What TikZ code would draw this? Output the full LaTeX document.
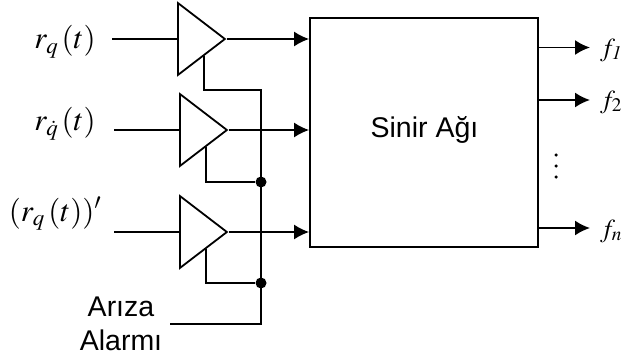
\documentclass[tikz,border=0pt]{standalone}
\usepackage{mathptmx}
\usepackage{fontspec}
\setsansfont{Liberation Sans}
\usepackage{tikz}
\usetikzlibrary{arrows.meta,shapes.geometric,calc}
\tikzset{
  wire/.style={line width=1.8pt},
  arrowwire/.style={wire,-{Latex[length=15pt,width=15pt]}},
  amp/.style={draw,line width=1.8pt,isosceles triangle,isosceles triangle stretches,
    minimum width=72pt,minimum height=47pt,inner sep=0pt,anchor=lower side},
  joint/.style={circle,fill=black,inner sep=0pt,minimum size=11pt},
  smalldot/.style={circle,fill=black,inner sep=0pt,minimum size=3.5pt},
  sig/.style={font=\fontsize{31}{32}\selectfont,inner sep=0pt},
  outlab/.style={font=\fontsize{26}{27}\selectfont,inner sep=0pt,anchor=west},
  lab/.style={font=\sffamily\fontsize{28.5}{30}\selectfont,inner sep=0pt,anchor=base}
}
\begin{document}
\begin{tikzpicture}[x=1pt,y=-1pt]
\useasboundingbox (0,0) rectangle (622,356);
% amplifiers and the network
\node[amp] (amp1) at (177,39) {};
\node[amp] (amp2) at (179,130) {};
\node[amp] (amp3) at (179,232) {};
\node[draw,line width=1.8pt,minimum width=228pt,minimum height=229pt,inner sep=0pt] (net) at (424,132.5) {};
\node[lab] (netlabel) at (424.5,137) {Sinir Ağı};
% inputs
\node[sig] (r1) at (65,42) {$r_q\,(t)$};
\node[sig] (r2) at (65,124) {$r_{\dot q}\,(t)$};
\node[sig] (r3) at (55,214) {$(r_q\,(t))'$};
\coordinate (in1) at (112,39);
\coordinate (in2) at (114,130);
\coordinate (in3) at (114,232);
\draw[wire](in1)--(amp1.lower side);
\draw[wire](in2)--(amp2.lower side);
\draw[wire](in3)--(amp3.lower side);
% amplifier outputs
\draw[arrowwire](amp1.apex)--(amp1.apex-|net.west);
\draw[arrowwire](amp2.apex)--(amp2.apex-|net.west);
\draw[arrowwire](amp3.apex)--(amp3.apex-|net.west);
% alarm line
\node[lab] (ariza) at (121,316) {Arıza};
\node[lab] (alarmi) at (121,350) {Alarmı};
\coordinate (alarmin) at (170,324);
\coordinate (alarmc) at (261,324);
\coordinate (top) at (261,90);
\node[joint] (j2) at (261,182) {};
\node[joint] (j3) at (261,283) {};
\coordinate (s1) at ($(amp1.apex)!0.46!(amp1.right corner)$);
\coordinate (s2) at ($(amp2.apex)!0.46!(amp2.right corner)$);
\coordinate (s3) at ($(amp3.apex)!0.46!(amp3.right corner)$);
\draw[wire](alarmin)--(alarmc)--(top)--(top-|s1)--(s1);
\draw[wire](s2)|-(j2);
\draw[wire](s3)|-(j3);
% outputs
\coordinate (o1) at (590,47.5);
\coordinate (o2) at (590,100);
\coordinate (o3) at (590,228);
\draw[arrowwire](o1-|net.east)--(o1);
\draw[arrowwire](o2-|net.east)--(o2);
\draw[arrowwire](o3-|net.east)--(o3);
\node[outlab] (f1) at (600,50) {$f_{\mathit{1}}$};
\node[outlab] (f2) at (600,102) {$f_2$};
\node[outlab] (fn) at (600,231) {$f_n$};
\node[smalldot] (d1) at (556,155) {};
\node[smalldot] (d2) at (556,166) {};
\node[smalldot] (d3) at (556,177) {};
\end{tikzpicture}
\end{document}
